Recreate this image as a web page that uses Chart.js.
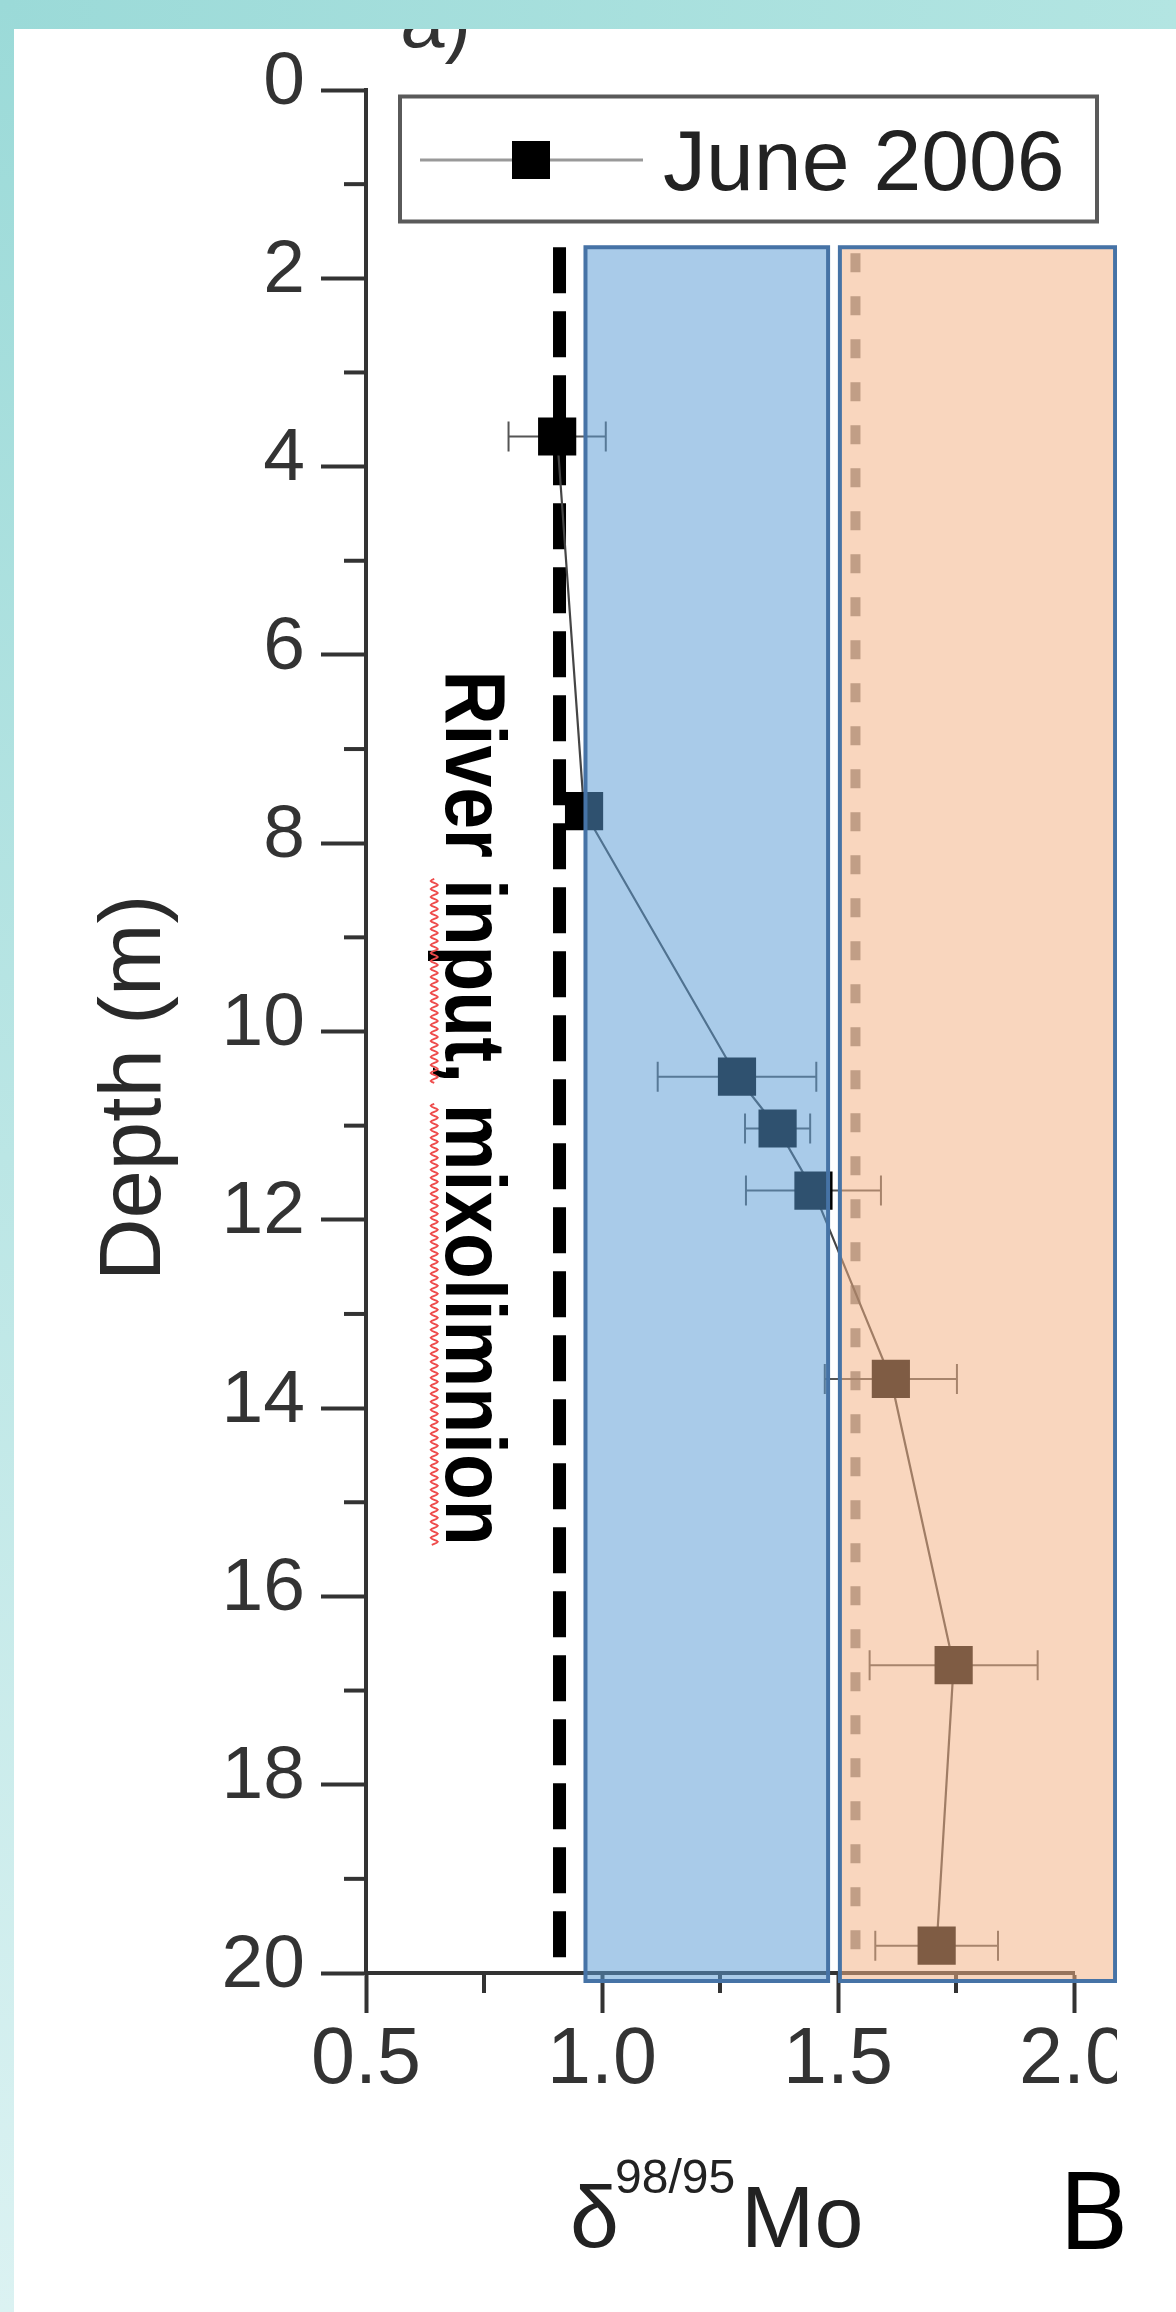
<!DOCTYPE html>
<html><head><meta charset="utf-8">
<script src="https://cdn.jsdelivr.net/npm/chart.js@4.4.1/dist/chart.umd.min.js"></script>
<style>
html,body{margin:0;padding:0;background:#fff;}
body{width:1176px;height:2312px;position:relative;overflow:hidden;}
#wrap{position:absolute;left:0;top:29px;width:1117px;height:2283px;}
#topband{position:absolute;left:0;top:0;width:1176px;height:29px;background:linear-gradient(90deg,#9bdad8,#b3e5e2);z-index:5;}
#leftband{position:absolute;left:0;top:0;width:14px;height:2312px;background:linear-gradient(180deg,#9bdad8,#dbf2f2);z-index:5;}
#B{position:absolute;left:1058px;top:2154px;font:108px 'Noto Sans',sans-serif;line-height:108px;color:#000;z-index:6;}
</style></head>
<body>
<div id="topband"></div><div id="leftband"></div>
<div id="wrap"><canvas id="c"></canvas></div>
<div id="B">B</div>
<script>
// ---- data ----
const depths   = [3.68, 7.66, 10.48, 11.03, 11.69, 13.69, 16.73, 19.71];
const moValues = [0.905, 0.962, 1.286, 1.372, 1.448, 1.612, 1.745, 1.709];
const moErrors = [0.103, 0.03, 0.168, 0.069, 0.143, 0.14, 0.178, 0.13];
const depthTicks = [0, 2, 4, 6, 8, 10, 12, 14, 16, 18, 20];
const depthMinorTicks = [1, 3, 5, 7, 9, 11, 13, 15, 17, 19];
const moTicks = [0.5, 1.0, 1.5, 2.0];
const moMinorTicks = [0.75, 1.25, 1.75];
const seriesLabel = 'June 2006';
const riverLineValue = 0.91;
const refLineValue = 1.537;
const lineDepthRange = [1.67, 20];
const blueBand = [0.965, 1.479];
const orangeBand = [1.504, 2.087];
const bandDepthRange = [1.67, 20.085];
const riverText = 'River input, mixolimnion';
const riverTextPos = {x: 0.67, yStart: 6.165, yEnd: 15.46};
const yTitle = 'Depth (m)';
const xTitleParts = ['\u03B4', '98/95', 'Mo'];
const panelLetter = 'a)';

const FONT = "'Liberation Sans', Arial, Helvetica, sans-serif";
const AX = '#333';

const decor = {
  id: 'decor',
  beforeDatasetsDraw(chart) {
    const {ctx, scales: {x, y}} = chart;
    ctx.save();
    // minor ticks
    ctx.strokeStyle = AX; ctx.lineWidth = 4; ctx.lineCap = 'butt';
    const ax = x.getPixelForValue(0.5);
    depthMinorTicks.forEach(v => {
      const py = y.getPixelForValue(v);
      ctx.beginPath(); ctx.moveTo(ax - 22, py); ctx.lineTo(ax, py); ctx.stroke();
    });
    const ay = y.getPixelForValue(20);
    moMinorTicks.forEach(v => {
      const px = x.getPixelForValue(v);
      ctx.beginPath(); ctx.moveTo(px, ay); ctx.lineTo(px, ay + 20); ctx.stroke();
    });
    // dashed reference lines
    const yt = y.getPixelForValue(lineDepthRange[0]);
    const yb = y.getPixelForValue(lineDepthRange[1]);
    ctx.strokeStyle = '#000'; ctx.lineWidth = 13; ctx.setLineDash([46, 18]);
    let px = x.getPixelForValue(riverLineValue);
    ctx.beginPath(); ctx.moveTo(px, yt); ctx.lineTo(px, yb); ctx.stroke();
    ctx.strokeStyle = '#8a8a8a'; ctx.lineWidth = 10; ctx.setLineDash([19, 24]);
    px = x.getPixelForValue(refLineValue);
    ctx.beginPath(); ctx.moveTo(px, yt + 6); ctx.lineTo(px, yb); ctx.stroke();
    ctx.setLineDash([]);
    // error bars
    ctx.strokeStyle = '#555'; ctx.lineWidth = 2;
    moValues.forEach((v, i) => {
      const py = y.getPixelForValue(depths[i]);
      const x1 = x.getPixelForValue(v - moErrors[i]);
      const x2 = x.getPixelForValue(v + moErrors[i]);
      ctx.beginPath();
      ctx.moveTo(x1, py); ctx.lineTo(x2, py);
      ctx.moveTo(x1, py - 15); ctx.lineTo(x1, py + 15);
      ctx.moveTo(x2, py - 15); ctx.lineTo(x2, py + 15);
      ctx.stroke();
    });
    ctx.restore();
  },
  afterDatasetsDraw(chart) {
    const {ctx, scales: {x, y}, chartArea} = chart;
    ctx.save();
    // panel letter (cropped at top)
    ctx.fillStyle = '#333'; ctx.font = '80px ' + FONT; ctx.textBaseline = 'alphabetic'; ctx.textAlign = 'left';
    ctx.fillText(panelLetter, 400, 18);
    // legend
    const L = chartArea.left + 34, T = 67.5, R = chartArea.left + 731, Bm = 192.5;
    ctx.strokeStyle = '#5a5a5a'; ctx.lineWidth = 4;
    ctx.strokeRect(L, T, R - L, Bm - T);
    const ly = 131;
    ctx.strokeStyle = '#999'; ctx.lineWidth = 3;
    ctx.beginPath(); ctx.moveTo(L + 20, ly); ctx.lineTo(L + 243, ly); ctx.stroke();
    ctx.fillStyle = '#000'; ctx.fillRect(L + 112, ly - 19, 38, 38);
    ctx.fillStyle = '#222'; ctx.font = '86px ' + FONT;
    ctx.fillText(chart.data.datasets[0].label, L + 263, 161);
    // y title
    ctx.save();
    ctx.translate(160, y.getPixelForValue(10.6));
    ctx.rotate(-Math.PI / 2);
    ctx.textAlign = 'center'; ctx.fillStyle = '#2a2a2a'; ctx.font = '87px ' + FONT;
    ctx.fillText(yTitle, 0, 0);
    ctx.restore();
    // x title with superscript
    const big = '88px ' + FONT, sup = '48px ' + FONT;
    ctx.font = big; const w0 = ctx.measureText(xTitleParts[0]).width, w2 = ctx.measureText(xTitleParts[2]).width;
    ctx.font = sup; const w1 = ctx.measureText(xTitleParts[1]).width;
    const total = w0 - 4 + w1 + 6 + w2;
    const cx = x.getPixelForValue(1.243);
    const base = chartArea.bottom + 274;
    let pen = cx - total / 2;
    ctx.fillStyle = '#222';
    ctx.font = big; ctx.fillText(xTitleParts[0], pen, base); pen += w0 - 4;
    ctx.font = sup; ctx.fillText(xTitleParts[1], pen, base - 54); pen += w1 + 6;
    ctx.font = big; ctx.fillText(xTitleParts[2], pen, base);
    // rotated annotation
    const bx = x.getPixelForValue(riverTextPos.x);
    const y0 = y.getPixelForValue(riverTextPos.yStart), y1 = y.getPixelForValue(riverTextPos.yEnd);
    ctx.font = 'bold 86px ' + FONT;
    const fullW = ctx.measureText(riverText).width;
    const sx = (y1 - y0) / fullW;
    const p1 = ctx.measureText('River ').width * sx, e1 = ctx.measureText('River input,').width * sx;
    const p2 = ctx.measureText('River input, ').width * sx, e2 = fullW * sx;
    ctx.translate(bx, y0);
    ctx.rotate(Math.PI / 2);
    ctx.save(); ctx.scale(sx, 1); ctx.fillStyle = '#000'; ctx.fillText(riverText, 0, 0); ctx.restore();
    ctx.strokeStyle = '#ee4b4b'; ctx.lineWidth = 1.8;
    [[p1, e1], [p2, e2]].forEach(([a, b]) => {
      ctx.beginPath();
      for (let t = a; t <= b; t += 1) {
        const off = 12 + 3.5 * Math.sin((t - a) / 8 * 2 * Math.PI);
        if (t === a) ctx.moveTo(t, off); else ctx.lineTo(t, off);
      }
      ctx.stroke();
    });
    ctx.restore();
  },
  afterDraw(chart) {
    const {ctx, scales: {x, y}} = chart;
    ctx.save();
    const yt = y.getPixelForValue(bandDepthRange[0]), yb = y.getPixelForValue(bandDepthRange[1]);
    const bands = [[blueBand, 'rgba(91,155,213,0.52)'], [orangeBand, 'rgba(244,177,131,0.52)']];
    bands.forEach(([b, fill]) => {
      const xl = x.getPixelForValue(b[0]), xr = x.getPixelForValue(b[1]);
      ctx.fillStyle = fill; ctx.fillRect(xl, yt, xr - xl, yb - yt);
      ctx.strokeStyle = '#4673a6'; ctx.lineWidth = 4; ctx.strokeRect(xl, yt, xr - xl, yb - yt);
    });
    ctx.restore();
  }
};

new Chart(document.getElementById('c'), {
  type: 'scatter',
  data: {
    datasets: [{
      label: seriesLabel,
      data: moValues.map((v, i) => ({x: v, y: depths[i]})),
      showLine: true,
      borderColor: '#454545',
      borderWidth: 2.2,
      pointStyle: 'rect',
      pointRadius: 27,
      pointHoverRadius: 27,
      pointBackgroundColor: '#000',
      pointBorderWidth: 0,
      clip: false
    }]
  },
  options: {
    responsive: true,
    maintainAspectRatio: false,
    animation: false,
    events: [],
    layout: {padding: {top: 59, right: 43, left: 0, bottom: 0}},
    plugins: {legend: {display: false}, tooltip: {enabled: false}},
    scales: {
      x: {
        type: 'linear', min: 0.5, max: 2.0,
        afterBuildTicks: s => { s.ticks = moTicks.map(v => ({value: v})); },
        ticks: {autoSkip: false, maxRotation: 0, padding: 1, color: '#333', font: {family: FONT, size: 79},
                callback: v => Number(v).toFixed(1)},
        grid: {display: true, drawOnChartArea: false, drawTicks: true, tickLength: 40, tickWidth: 4, tickColor: AX},
        border: {display: true, width: 4, color: AX},
        afterFit: s => { s.paddingRight = 0; s.paddingLeft = 0; s.height = 339; }
      },
      y: {
        type: 'linear', min: 0, max: 20, reverse: true,
        afterBuildTicks: s => { s.ticks = depthTicks.map(v => ({value: v})); },
        ticks: {autoSkip: false, padding: 16, labelOffset: -7, color: '#333', font: {family: FONT, size: 75},
                callback: v => String(v)},
        grid: {display: true, drawOnChartArea: false, drawTicks: true, tickLength: 45, tickWidth: 4, tickColor: AX},
        border: {display: true, width: 4, color: AX},
        afterFit: s => { s.width = 366; }
      }
    }
  },
  plugins: [decor]
});
</script>
</body></html>
